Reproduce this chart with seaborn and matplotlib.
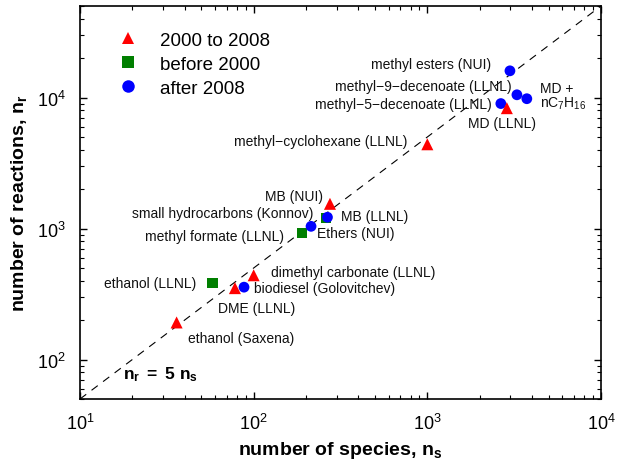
import numpy as np
import pandas as pd
import matplotlib
matplotlib.use('Agg')
import matplotlib.pyplot as plt
from matplotlib.lines import Line2D
from matplotlib.ticker import LogLocator, NullFormatter
import seaborn as sns

# mechanism sizes
mechanisms = ['ethanol (LLNL)', 'methyl formate (LLNL)', 'MB (LLNL)',
              'ethanol (Saxena)', 'DME (LLNL)', 'dimethyl carbonate (LLNL)',
              'MB (NUI)', 'methyl\u2212cyclohexane (LLNL)',
              'biodiesel (Golovitchev)', 'small hydrocarbons (Konnov)', 'Ethers (NUI)',
              'methyl\u22125\u2212decenoate (LLNL)', 'MD (LLNL)',
              'methyl\u22129\u2212decenoate (LLNL)', 'MD +\nnC$_7$H$_{16}$',
              'methyl esters (NUI)']
species = [58, 190, 262, 36, 78, 100, 275, 1000, 88, 214, 266, 2650, 2870, 3280, 3740, 2990]
reactions = [383, 920, 1210, 192, 351, 440, 1545, 4400, 357, 1040, 1220, 9000, 8300, 10500, 9800, 16000]
era = (['before 2000'] * 3 + ['2000 to 2008'] * 5 + ['after 2008'] * 4
       + ['2000 to 2008'] + ['after 2008'] * 3)

era_order = ['2000 to 2008', 'before 2000', 'after 2008']

# label placement (pixel offsets from the point, alignment)
label_offsets = [(-16, 0, 'right'), (-18, -3, 'right'), (15, 2, 'left'),
                 (11, -16, 'left'), (-17, -20, 'left'), (17, 3, 'left'),
                 (-7, 8, 'right'), (-20, 3, 'right'),
                 (10, -1, 'left'), (2, 13, 'right'), (-10, -16, 'left'),
                 (-9, 0, 'right'), (-39, -15, 'left'),
                 (-5, 9, 'right'), (13, 3, 'left'),
                 (-19, 7, 'right')]

df = pd.DataFrame({'mechanism': mechanisms, 'species': species,
                   'reactions': reactions, 'era': era})

sns.set_style('ticks')
plt.rcParams['font.family'] = ['Liberation Sans', 'DejaVu Sans']
plt.rcParams['mathtext.fontset'] = 'custom'
plt.rcParams['mathtext.rm'] = 'Liberation Sans'
plt.rcParams['mathtext.it'] = 'Liberation Sans:italic'
plt.rcParams['mathtext.bf'] = 'Liberation Sans:bold'
plt.rcParams['text.color'] = 'black'
plt.rcParams['axes.labelcolor'] = 'black'
plt.rcParams['xtick.color'] = 'black'
plt.rcParams['ytick.color'] = 'black'
plt.rcParams['axes.edgecolor'] = 'black'

palette = {'2000 to 2008': '#ff0000', 'before 2000': '#007f00', 'after 2008': '#0000ff'}
markers = {'2000 to 2008': '^', 'before 2000': 's', 'after 2008': 'o'}
sizes = {'2000 to 2008': 75, 'before 2000': 55, 'after 2008': 60}

fig = plt.figure(figsize=(6.17, 4.64), dpi=100)
ax = fig.add_axes([80 / 617, 1 - 400 / 464, 521 / 617, 393 / 464])

# reference line n_r = 5 n_s
xl = np.array([10, 1e4])
ax.plot(xl, 5 * xl, color='black', lw=0.8, dashes=(7, 6), zorder=1)

# draw in row order so overlaps stack like the original
for i, row in df.iterrows():
    sns.scatterplot(x=[row['species']], y=[row['reactions']], ax=ax,
                    color=palette[row['era']], marker=markers[row['era']],
                    s=sizes[row['era']], edgecolor='none', legend=False, zorder=3)

for (name, xs, yr), (dx, dy, ha) in zip(zip(mechanisms, species, reactions), label_offsets):
    ax.annotate(name, (xs, yr), xytext=(dx * 0.72, dy * 0.72), textcoords='offset points',
                ha=ha, va='center', fontsize=10, color='#111111', linespacing=0.95)

ax.set_xscale('log')
ax.set_yscale('log')
ax.set_xlim(10, 1e4)
ax.set_ylim(50, 5e4)
for axis in (ax.xaxis, ax.yaxis):
    axis.set_major_locator(LogLocator(base=10, numticks=10))
    axis.set_minor_locator(LogLocator(base=10, subs=np.arange(2, 10), numticks=100))
    axis.set_minor_formatter(NullFormatter())
ax.tick_params(which='both', direction='in', top=True, right=True, width=1, color='black')
ax.tick_params(which='major', length=5, labelsize=13, pad=10)
ax.tick_params(which='minor', length=3, width=0.8)
for sp in ax.spines.values():
    sp.set_linewidth(1.2)
    sp.set_color('black')

ax.set_xlabel(r'number of species, $\mathbf{n_s}$', fontsize=14, fontweight='bold', labelpad=4)
ax.set_ylabel(r'number of reactions, $\mathbf{n_r}$', fontsize=14, fontweight='bold', labelpad=6)

ax.text(0.083, 0.064, r'$\mathbf{n_r}$ $\mathbf{=}$ $\mathbf{5\ n_s}$', transform=ax.transAxes,
        fontsize=12.5, fontweight='bold', va='center')

handles = [Line2D([], [], ls='none', marker=markers[e], color=palette[e],
                  markersize=9, markeredgewidth=0) for e in era_order]
ax.legend(handles, era_order, loc='upper left', bbox_to_anchor=(0.042, 0.977), frameon=False,
          fontsize=13.5, handlelength=1.0, handletextpad=1.2, labelspacing=0.36)

fig.savefig('out.png', dpi=100)
